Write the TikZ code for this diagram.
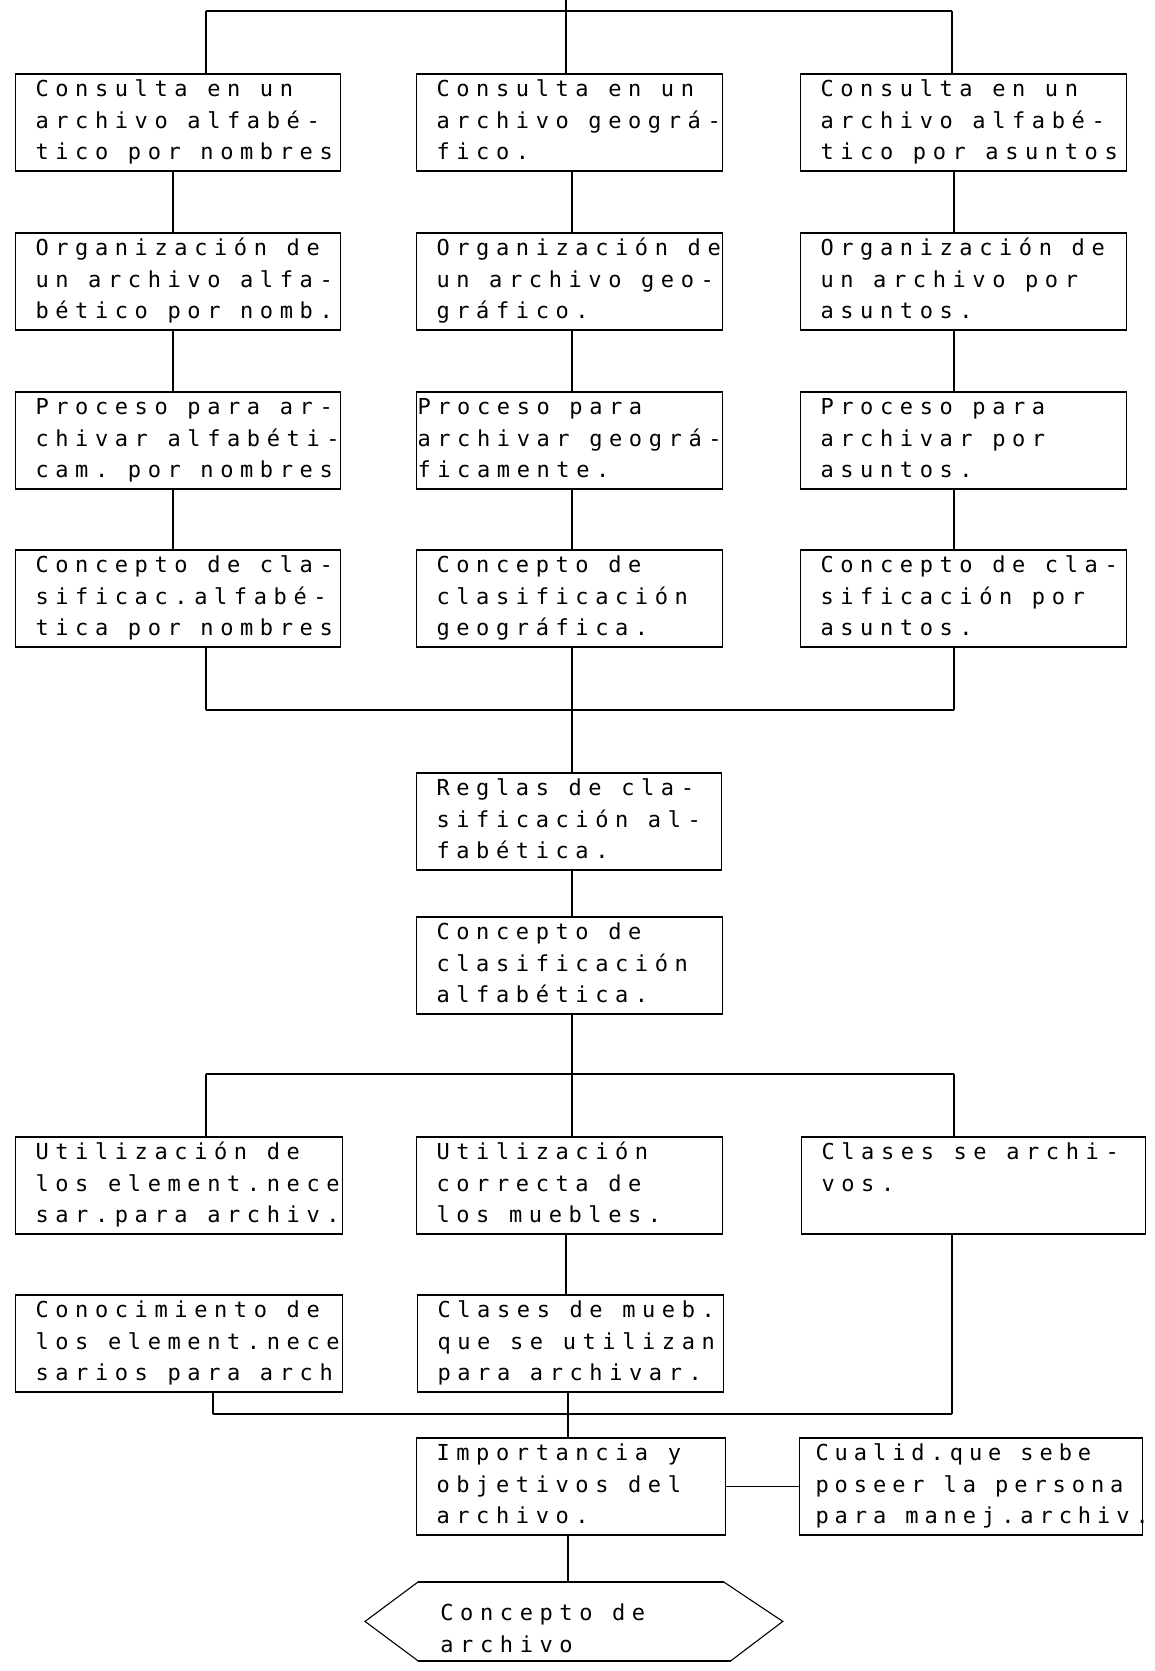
\documentclass[tikz,border=0pt]{standalone}
\usepackage{fontspec}
\newfontfamily\tw[LetterSpace=30]{DejaVu Sans Mono}
\newfontfamily\twb[LetterSpace=27]{DejaVu Sans Mono}
% width of one typed word space
\newlength\espacio
\setlength\espacio{9.8pt}
% typewriter settings: normal pitch and a slightly tighter one
\newcommand\maquina{\tw\fontsize{11}{15.75}\selectfont\setlength\espacio{9.8pt}}
\newcommand\maquinab{\twb\fontsize{11}{15.75}\selectfont\setlength\espacio{9.5pt}}
% one typed line: every word space is one fixed pitch
\ExplSyntaxOn
\cs_new_protected:Npn \linea #1
  {
    \tl_set:Nn \l_tmpa_tl {#1}
    \tl_replace_all:Nnn \l_tmpa_tl {~} { \hspace*{\espacio} }
    \mbox{\l_tmpa_tl}
  }
\ExplSyntaxOff
% three typed lines with fixed first-line height and last-line depth
\newcommand\tres[3]{\rule{0pt}{9pt}\linea{#1}\\\linea{#2}\\\linea{#3}\rule[-3.5pt]{0pt}{3.5pt}}
\begin{document}
\begin{tikzpicture}[x=0.5pt,y=-0.5pt,
  caja/.style={draw, line width=0.55pt, rectangle, anchor=north west,
    inner xsep=10pt, inner ysep=0pt, minimum height=48pt, align=left,
    font=\maquina},
  borde/.style={line width=1.2pt},
  conector/.style={line width=0.55pt},
  bus/.style={line width=1.1pt},
  hexa/.style={rectangle, anchor=north west, inner xsep=37.5pt, inner ysep=0pt,
    minimum height=39pt, text width=133.5pt, align=left, font=\maquina}]
\fill[white] (0,0) rectangle (1155,1671);
\useasboundingbox (0,0) rectangle (1155,1671);

% column positions of the connecting lines
\coordinate (xa) at (173,0);
\coordinate (xb) at (572,0);
\coordinate (xc) at (954,0);
\coordinate (xd) at (566,0);
\coordinate (xe) at (568,0);

% first three columns
\node[caja, text width=142.5pt] (a1) at (15,74)  {\tres{Consulta en un}{archivo alfabé-}{tico por nombres}};
\node[caja, text width=133pt]   (b1) at (416,74) {\tres{Consulta en un}{archivo geográ-}{fico.}};
\node[caja, text width=143pt]   (c1) at (800,74) {\tres{Consulta en un}{archivo alfabé-}{tico por asuntos}};

\node[caja, text width=142.5pt] (a2) at (15,233)  {\tres{Organización de}{un archivo alfa-}{bético por nomb.}};
\node[caja, text width=133pt]   (b2) at (416,233) {\tres{Organización de}{un archivo geo-}{gráfico.}};
\node[caja, text width=143pt]   (c2) at (800,233) {\tres{Organización de}{un archivo por}{asuntos.}};

\node[caja, text width=142.5pt] (a3) at (15,392)  {\tres{Proceso para ar-}{chivar alfabéti-}{cam. por nombres}};
\node[caja, text width=152pt, inner xsep=0.5pt] (b3) at (416,392) {\tres{Proceso para}{archivar geográ-}{ficamente.}};
\node[caja, text width=143pt]   (c3) at (800,392) {\tres{Proceso para}{archivar por}{asuntos.}};

\node[caja, text width=142.5pt] (a4) at (15,550)  {\tres{Concepto de cla-}{sificac.alfabé-}{tica por nombres}};
\node[caja, text width=133pt]   (b4) at (416,550) {\tres{Concepto de}{clasificación}{geográfica.}};
\node[caja, text width=143pt]   (c4) at (800,550) {\tres{Concepto de cla-}{sificación por}{asuntos.}};

% central column
\node[caja, text width=132.5pt] (r) at (416,773) {\tres{Reglas de cla-}{sificación al-}{fabética.}};
\node[caja, text width=133pt]   (k) at (416,917) {\tres{Concepto de}{clasificación}{alfabética.}};

% lower rows
\node[caja, text width=143.5pt] (a5) at (15,1137)  {\tres{Utilización de}{los element.nece}{sar.para archiv.}};
\node[caja, text width=133pt]   (b5) at (416,1137) {\tres{Utilización}{correcta de}{los muebles.}};
\node[caja, text width=152pt]   (c5) at (801,1137) {\tres{Clases se archi-}{vos.}{}};

\node[caja, text width=143.5pt] (a6) at (15,1295)  {\tres{Conocimiento de}{los element.nece}{sarios para arch}};
\node[caja, text width=133pt]   (b6) at (417,1295) {\tres{Clases de mueb.}{que se utilizan}{para archivar.}};

\node[caja, text width=134.5pt] (i) at (416,1438) {\tres{Importancia y}{objetivos del}{archivo.}};
\node[caja, text width=155.5pt, inner xsep=8pt, font=\maquinab] (q) at (799,1438) {\tres{Cualid.que sebe}{poseer la persona}{para manej.archiv.}};

\node[hexa, minimum width=208.5pt] (h) at (365,1582)
  {\rule{0pt}{15pt}\linea{Concepto de}\\\linea{archivo}};
\draw[line width=0.55pt] (h.west) -- ([xshift=26.5pt]h.north west)
  -- ([xshift=-29.5pt]h.north east) -- (h.east)
  -- ([xshift=-26pt]h.south east) -- ([xshift=26.5pt]h.south west) -- cycle;
\draw[borde] ([xshift=26.5pt]h.north west) -- ([xshift=-29.5pt]h.north east);
\draw[borde] ([xshift=26.5pt]h.south west) -- ([xshift=-26pt]h.south east);

% heavier typed top and bottom edges
\foreach \n in {a1,b1,c1,a2,b2,c2,a3,b3,c3,a4,b4,c4,r,k,a5,b5,c5,a6,b6,i,q}
  \draw[borde] (\n.north west) -- (\n.north east) (\n.south west) -- (\n.south east);

% top distribution
\coordinate (t0) at (566,0);
\coordinate (tl) at (206,11);
\coordinate (tr) at (952,11);
\draw[conector] (t0) -- (t0 |- b1.north);
\draw[bus] (tl) -- (tr);
\draw[conector] (tl) -- (tl |- a1.north);
\draw[conector] (tr) -- (tr |- c1.north);

% links down each column
\foreach \u/\v in {1/2,2/3,3/4} {
  \draw[conector] (a\u.south -| xa) -- (a\v.north -| xa);
  \draw[conector] (b\u.south -| xb) -- (b\v.north -| xb);
  \draw[conector] (c\u.south -| xc) -- (c\v.north -| xc);
}

% join of the three columns
\coordinate (ml) at (206,710);
\coordinate (mr) at (954,710);
\draw[conector] (a4.south -| ml) -- (ml);
\draw[conector] (c4.south -| mr) -- (mr);
\draw[bus] (ml) -- (mr);
\draw[conector] (b4.south -| xb) -- (r.north -| xb);
\draw[conector] (r.south -| xb) -- (k.north -| xb);

% second distribution
\coordinate (nl) at (206,1074);
\coordinate (nr) at (954,1074);
\draw[conector] (k.south -| xb) -- (b5.north -| xb);
\draw[bus] (nl) -- (nr);
\draw[conector] (nl) -- (nl |- a5.north);
\draw[conector] (nr) -- (nr |- c5.north);
\draw[conector] (b5.south -| xd) -- (b6.north -| xd);

% second join
\coordinate (pl) at (213,1414);
\coordinate (pr) at (952,1414);
\draw[conector] (a6.south -| pl) -- (pl);
\draw[conector] (c5.south -| pr) -- (pr);
\draw[bus] (pl) -- (pr);
\draw[conector] (b6.south -| xe) -- (i.north -| xe);
\draw[conector] (i.east) -- (q.west);
\draw[conector] (i.south -| xe) -- (h.north -| xe);
\end{tikzpicture}
\end{document}
